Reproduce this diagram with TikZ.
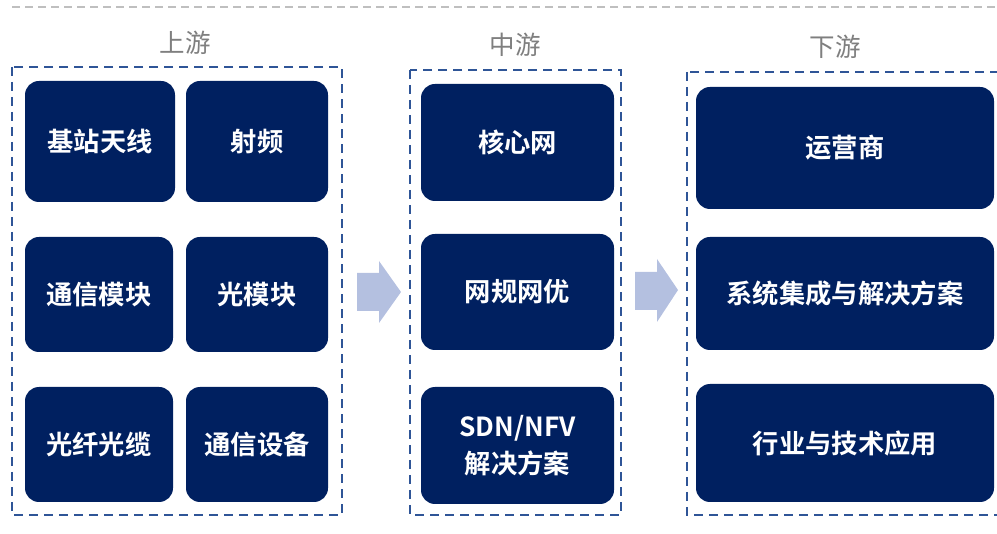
\documentclass[tikz,border=0pt]{standalone}
\usepackage{fontspec}
\setmainfont{Noto Sans CJK SC}[BoldFont={Noto Sans CJK SC Bold}]
\definecolor{navy}{HTML}{002060}
\definecolor{grpblue}{HTML}{2F5597}
\definecolor{arrowfill}{HTML}{B4C0E0}
\definecolor{titlegray}{HTML}{7F7F7F}
\definecolor{linegray}{HTML}{BFBFBF}
\begin{document}
\begin{tikzpicture}[x=1pt,y=-1pt,
  grp/.style={draw=grpblue,line width=2.8pt,dash pattern=on 9pt off 6pt},
  ttl/.style={text=titlegray,font=\fontsize{25.5}{30}\selectfont}]
\useasboundingbox (0,0) rectangle (997,534);
% top separator
\draw[linegray,line width=1.5pt,dash pattern=on 8pt off 5pt] (12,7) -- (997,7);
% groups
\draw[grp] (12,67) rectangle (342,515);
\draw[grp] (410,70) rectangle (621,515);
\draw[grp] (687,72) rectangle (1000,515);
% titles
\node[ttl] (t1) at (185,43) {上游};
\node[ttl] (t2) at (515,45) {中游};
\node[ttl] (t3) at (835,47) {下游};
% boxes
\newcommand{\itembox}[6]{%
  \fill[navy,rounded corners=14pt] (#1,#2) rectangle (#3,#4);
  \node[text=white,font=\fontsize{26.3}{37}\selectfont\bfseries,align=center] (#5) at ({(#1+#3)/2},{(#2+#4)/2}) {#6};}
\itembox{25}{81}{175}{202}{a1}{基站天线}
\itembox{186}{81}{328}{202}{a2}{射频}
\itembox{25}{237}{173}{352}{a3}{通信模块}
\itembox{186}{237}{328}{352}{a4}{光模块}
\itembox{25}{387}{173}{502}{a5}{光纤光缆}
\itembox{186}{387}{328}{502}{a6}{通信设备}
\itembox{421}{84}{614}{201}{b1}{核心网}
\itembox{421}{234}{614}{350}{b2}{网规网优}
\itembox{421}{387}{614}{504}{b3}{SDN/NFV\\解决方案}
\itembox{696}{87}{994}{209}{c1}{运营商}
\itembox{696}{237}{994}{350}{c2}{系统集成与解决方案}
\itembox{696}{384}{994}{502}{c3}{行业与技术应用}
% arrows
\fill[arrowfill] (357,273) -- (379,273) -- (379,261) -- (401,292) -- (379,323) -- (379,311) -- (357,311) -- cycle;
\fill[arrowfill] (635,272) -- (657,272) -- (657,259) -- (678,290) -- (657,322) -- (657,310) -- (635,310) -- cycle;
\end{tikzpicture}
\end{document}
